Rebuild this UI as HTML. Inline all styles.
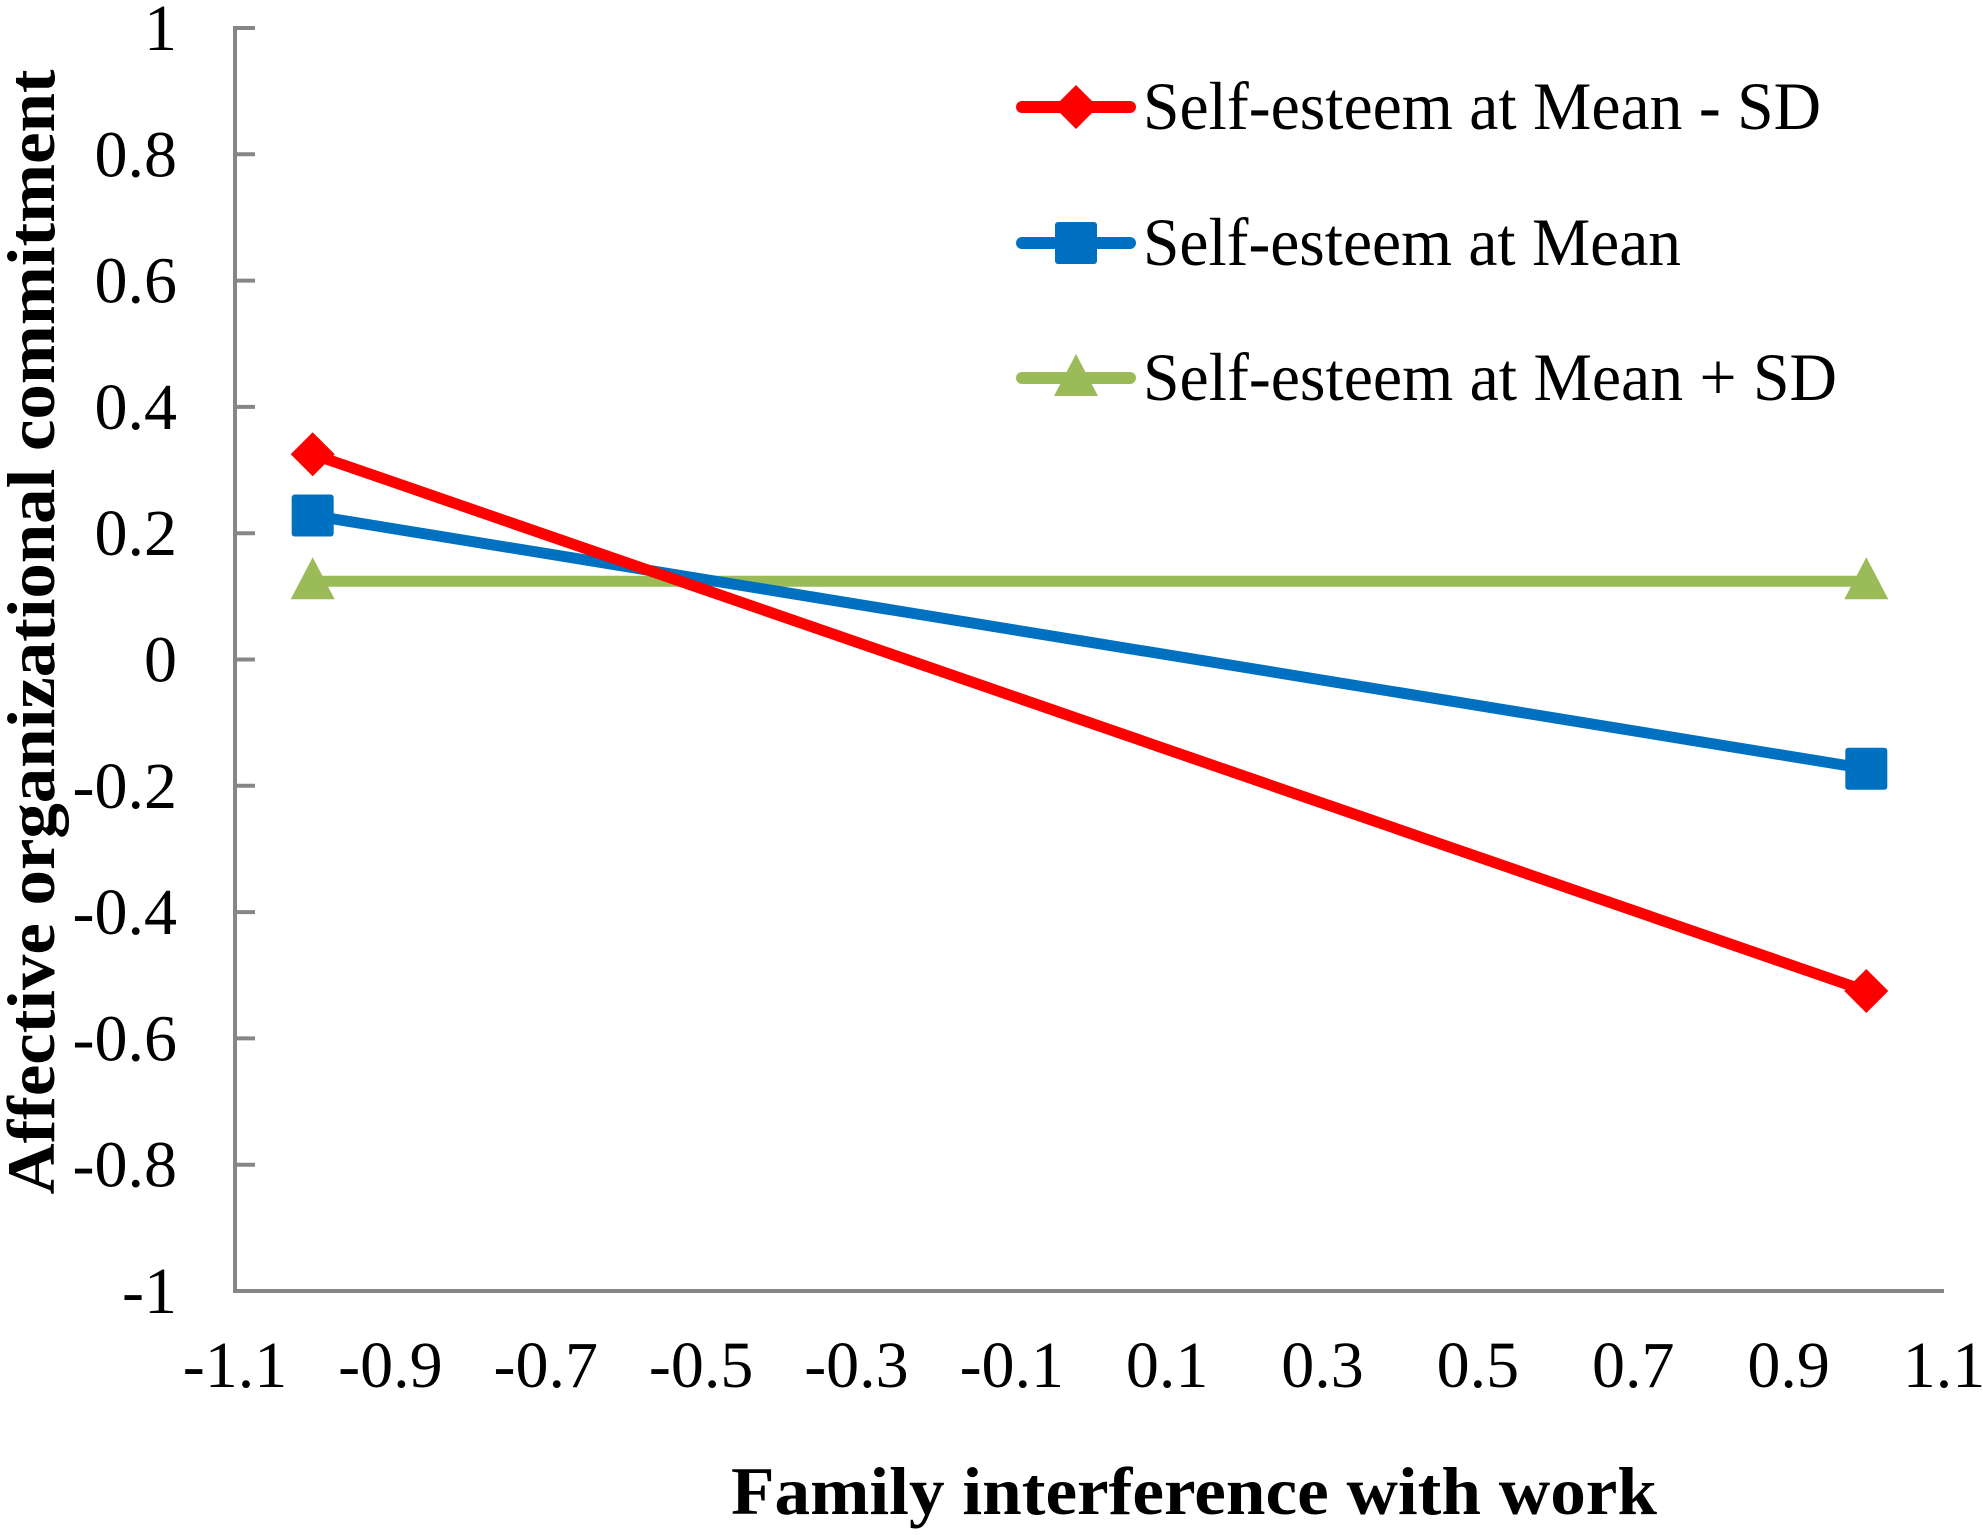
<!DOCTYPE html>
<html><head><meta charset="utf-8"><style>
html,body{margin:0;padding:0;background:#fff;}
svg{display:block;font-family:"Liberation Serif",serif;}
</style></head><body>
<svg id="chart" width="1983" height="1535" viewBox="0 0 1983 1535" xmlns="http://www.w3.org/2000/svg">
<g id="axes"></g><g id="series"></g><g id="legend"></g>
<text x="1194" y="1514" font-size="68" font-weight="bold" text-anchor="middle" textLength="926" lengthAdjust="spacingAndGlyphs">Family interference with work</text>
<text transform="translate(54,632) rotate(-90)" font-size="68" font-weight="bold" text-anchor="middle" textLength="1125" lengthAdjust="spacingAndGlyphs">Affective organizational commitment</text>
</svg>
<script>
const xCats = [-1, 1];
const redVals = [0.325, -0.525];
const blueVals = [0.228, -0.173];
const greenVals = [0.124, 0.124];
const seriesNames = ["Self-esteem at Mean - SD", "Self-esteem at Mean", "Self-esteem at Mean + SD"];
const yTicks = [1, 0.8, 0.6, 0.4, 0.2, 0, -0.2, -0.4, -0.6, -0.8, -1];
const yTickLabels = ["1","0.8","0.6","0.4","0.2","0","-0.2","-0.4","-0.6","-0.8","-1"];
const xTicks = [-1.1,-0.9,-0.7,-0.5,-0.3,-0.1,0.1,0.3,0.5,0.7,0.9,1.1];
const xTickLabels = ["-1.1","-0.9","-0.7","-0.5","-0.3","-0.1","0.1","0.3","0.5","0.7","0.9","1.1"];

const NS="http://www.w3.org/2000/svg";
const X0=235,X1=1944,Y0=28,Y1=1291;
const xs=v=>X0+(v+1.1)/2.2*(X1-X0);
const ys=v=>Y0+(1-v)/2*(Y1-Y0);
function mk(tag,parent,attrs){const e=document.createElementNS(NS,tag);for(const k in attrs)e.setAttribute(k,attrs[k]);parent.appendChild(e);return e;}
const axes=document.getElementById('axes'),ser=document.getElementById('series'),leg=document.getElementById('legend');

let a=mk('line',axes,{x1:X0,y1:Y0-2,x2:X0,y2:Y1,stroke:'#868686','stroke-width':4});


a=mk('line',axes,{x1:X0-2,y1:Y1,x2:X1,y2:Y1,stroke:'#868686','stroke-width':4});


yTicks.forEach((v,i)=>{
  const t=mk('line',axes,{x1:X0,y1:ys(v),x2:X0+20,y2:ys(v),stroke:'#868686','stroke-width':4});
  
  
  const l=mk('text',axes,{x:177,y:ys(v)+22,'font-size':66,'text-anchor':'end'});
  l.textContent=yTickLabels[i];
  
  
});
xTicks.forEach((v,i)=>{
  const l=mk('text',axes,{x:xs(v),y:1387,'font-size':66,'text-anchor':'middle'});
  l.textContent=xTickLabels[i];
  
  
});

function marker(g,type,cx,cy,color){
  let m;
  if(type==='diamond') m=mk('polygon',g,{points:`${cx},${cy-22} ${cx+22},${cy} ${cx},${cy+22} ${cx-22},${cy}`,fill:color});
  else if(type==='square') m=mk('rect',g,{x:cx-21,y:cy-21,width:42,height:42,fill:color,rx:3});
  else m=mk('polygon',g,{points:`${cx},${cy-24} ${cx+22},${cy+18} ${cx-22},${cy+18}`,fill:color,'stroke-linejoin':'round'});
  return m;
}
const defs=[[redVals,'#ff0000','diamond','series-mean-minus-sd'],[blueVals,'#0070c0','square','series-mean'],[greenVals,'#9bbb59','triangle','series-mean-plus-sd']];
defs.slice().reverse().forEach(([vals,color,type,name])=>{
  const g=mk('g',ser,{});
  
  
  const pts=vals.map((v,i)=>xs(xCats[i])+','+ys(v)).join(' ');
  const pl=mk('polyline',g,{points:pts,fill:'none',stroke:color,'stroke-width':11,'stroke-linecap':'round'});
  
  
  vals.forEach((v,i)=>{
    const m=marker(g,type,xs(xCats[i]),ys(v),color);
    
    
  });
});
const legY=[107,243,378];
const legW=[678,538,694];
defs.forEach(([vals,color,type],i)=>{
  const g=mk('g',leg,{});
  
  
  mk('line',g,{x1:1022,y1:legY[i],x2:1130,y2:legY[i],stroke:color,'stroke-width':12,'stroke-linecap':'round'});
  marker(g,type,1076,legY[i],color);
  const t=mk('text',g,{x:1143,y:legY[i]+22,'font-size':68,textLength:legW[i],lengthAdjust:'spacingAndGlyphs'});
  t.textContent=seriesNames[i];
  
  
});
</script>
</body></html>
